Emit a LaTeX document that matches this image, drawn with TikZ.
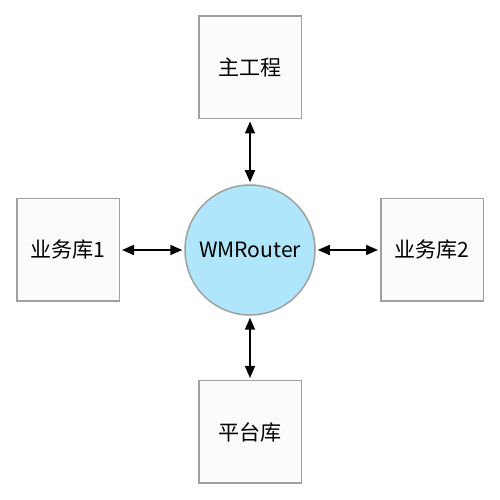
\documentclass[tikz,border=0pt]{standalone}
\usepackage{fontspec}
\setmainfont{Noto Sans CJK SC}
\usetikzlibrary{arrows.meta, positioning}
\definecolor{boxgray}{RGB}{160,160,160}
\definecolor{boxfill}{RGB}{251,251,251}
\definecolor{routerblue}{RGB}{176,230,251}
\begin{document}
\begin{tikzpicture}[
    font=\fontsize{12}{14}\selectfont,
    modbox/.style={draw=boxgray, fill=boxfill, line width=0.03cm, minimum size=2.05cm, inner sep=0pt},
    router/.style={circle, draw=boxgray, fill=routerblue, line width=0.03cm, minimum size=2.6cm, inner sep=0pt},
    link/.style={{Triangle[length=0.24cm, width=0.2cm]}-{Triangle[length=0.24cm, width=0.2cm]}, line width=0.033cm, shorten <=0.04cm, shorten >=0.04cm}
]
\useasboundingbox (0,0) rectangle (10,10);
\node[router] (wm) at (5,5) {WMRouter};
\node[modbox] (main) at (5,8.65) {主工程};
\node[modbox] (biz1) at (1.36,5) {业务库1};
\node[modbox] (biz2) at (8.64,5) {业务库2};
\node[modbox] (platform) at (5,1.36) {平台库};
\draw[link] (main) -- (wm);
\draw[link] (biz1) -- (wm);
\draw[link] (wm) -- (biz2);
\draw[link] (wm) -- (platform);
\end{tikzpicture}
\end{document}
